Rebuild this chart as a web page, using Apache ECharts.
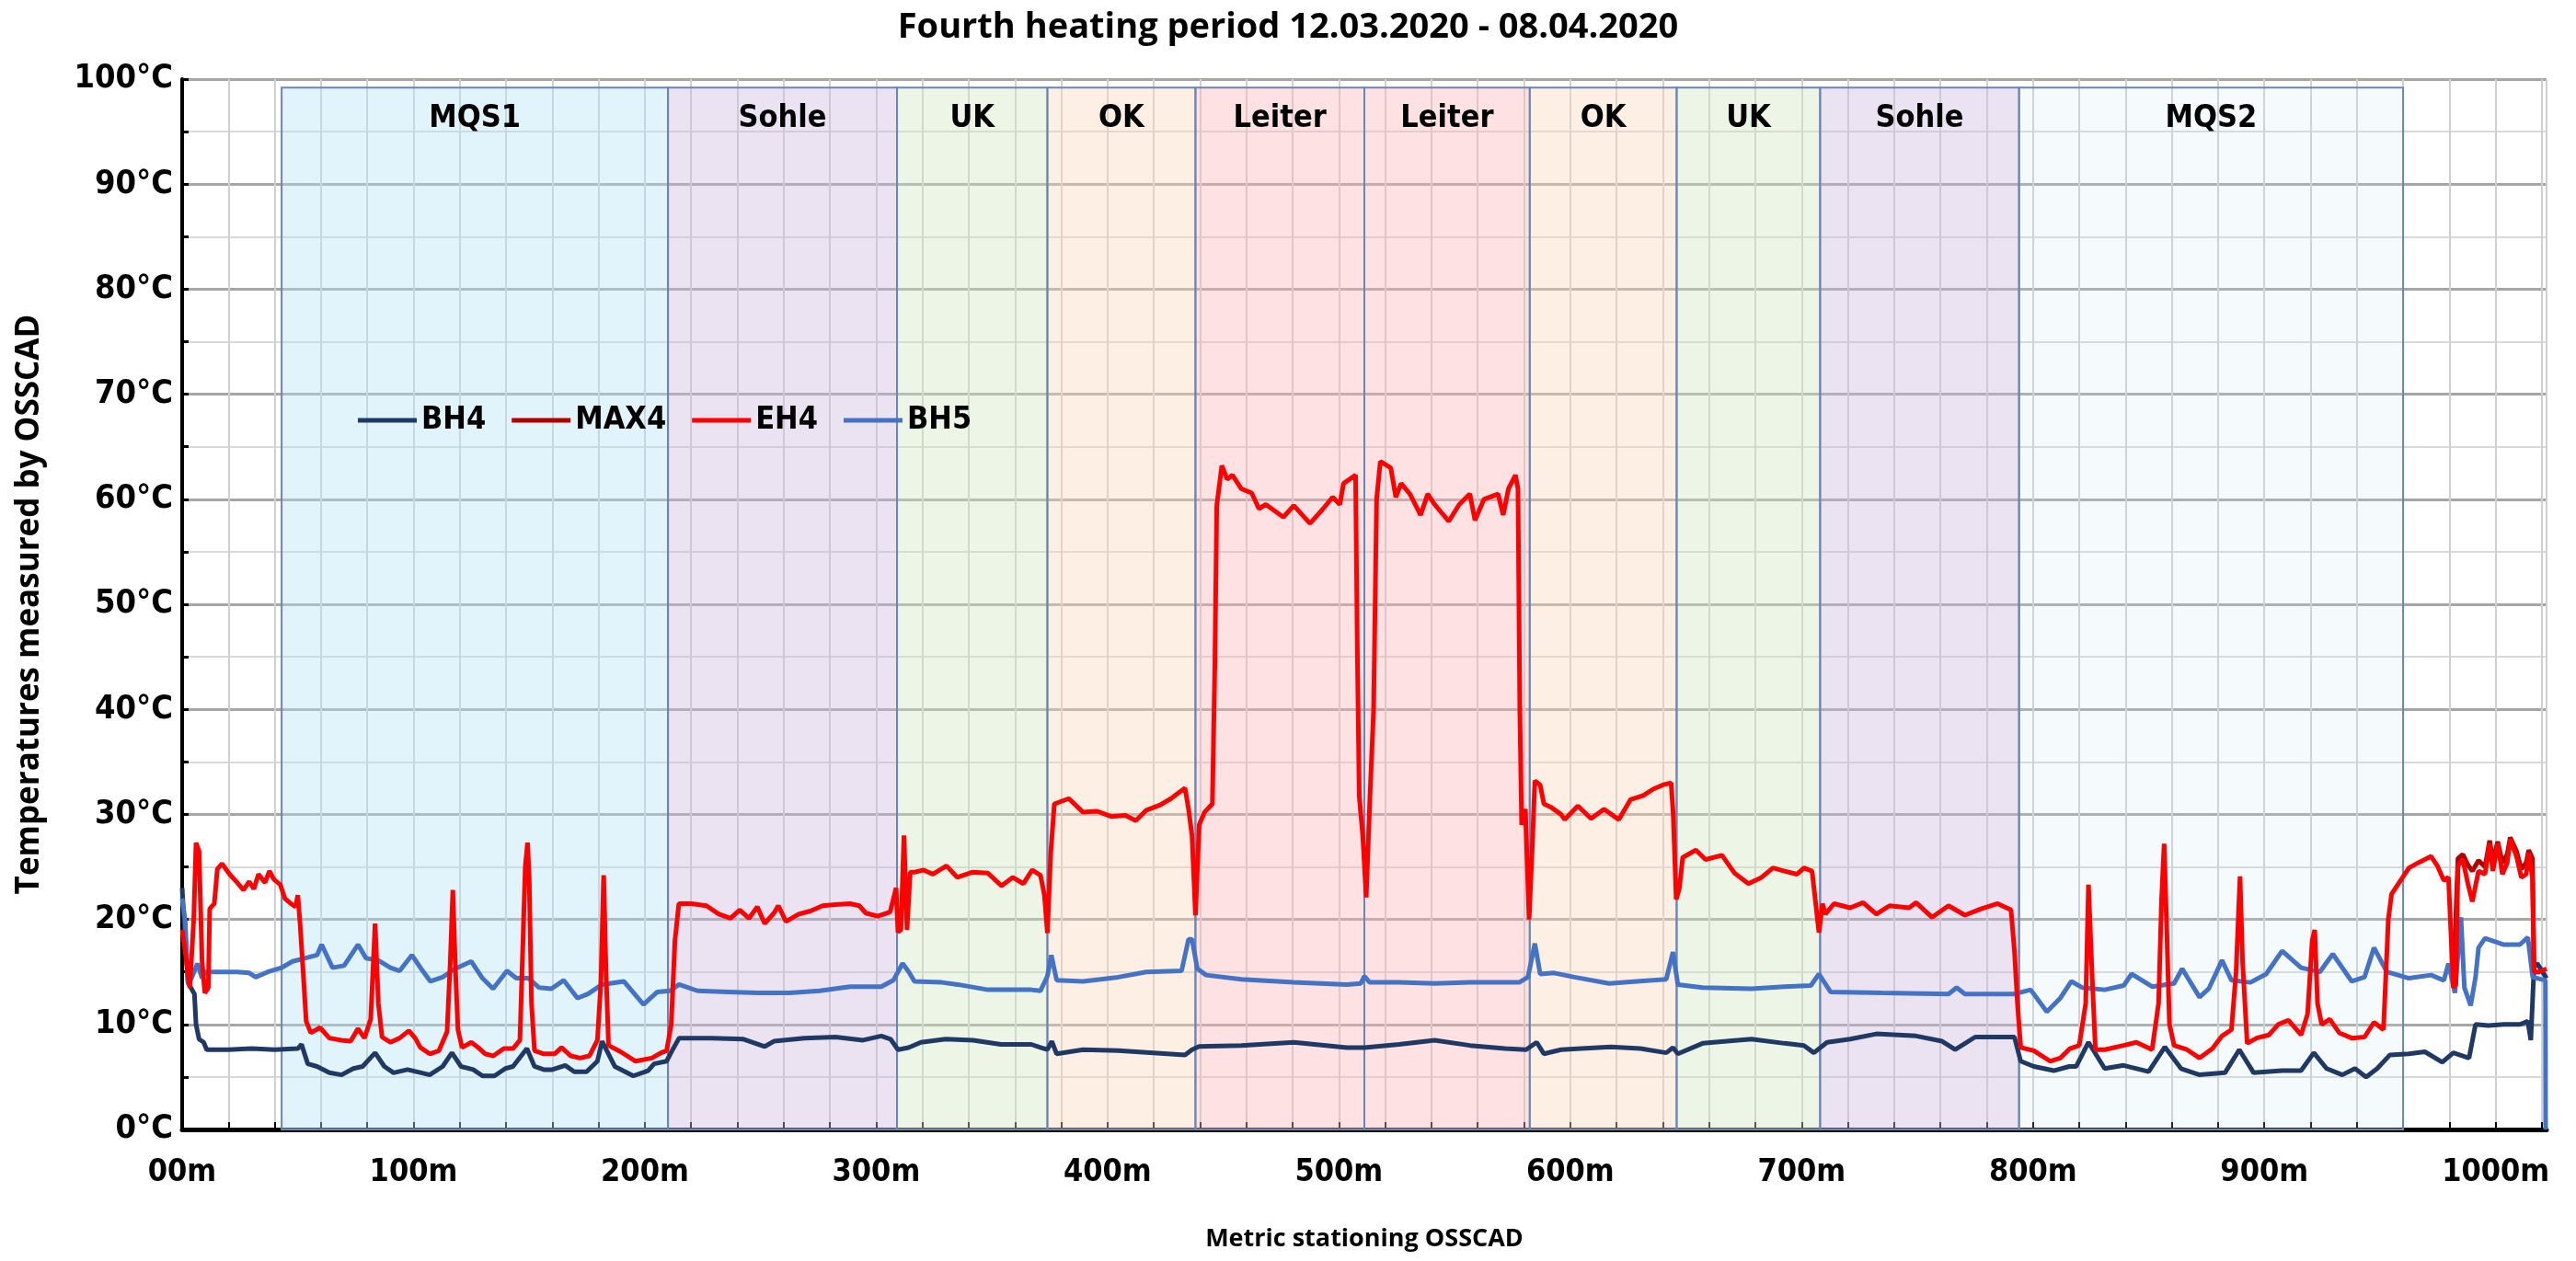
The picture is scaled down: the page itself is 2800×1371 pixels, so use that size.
<!DOCTYPE html>
<html>
<head>
<meta charset="utf-8">
<title>Fourth heating period</title>
<script src="https://cdn.jsdelivr.net/npm/echarts@6/dist/echarts.min.js"></script>
<style>
html, body { margin: 0; padding: 0; background: #fff; }
#main { width: 2800px; height: 1371px; }
</style>
</head>
<body>
<div id="main"></div>
<script>
// values: [station m, temperature °C]
var bh4 = [[0,23],[1,19],[2.5,14],[5.3,12.9],[6,10],[7.3,8.6],[9.3,8.3],[10.6,7.6],[20,7.6],[30,7.7],[40,7.6],[50,7.7],[51.6,8.1],[54.3,6.25],[58.3,6],[63.6,5.4],[68.9,5.2],[74,5.8],[78,6],[83.4,7.3],[87.4,6],[91.4,5.4],[97.4,5.7],[103.3,5.4],[107,5.2],[112.6,6],[116.6,7.3],[120.5,6],[125.8,5.7],[129.8,5.1],[135,5.1],[139.7,5.8],[143,6],[149,7.7],[152.3,6],[156.3,5.7],[160,5.7],[165.6,6.1],[169.5,5.5],[174.8,5.5],[179.5,6.5],[181.5,8.4],[187,6],[195,5.1],[201.4,5.6],[204,6.25],[209.4,6.5],[212,7.6],[214.8,8.7],[229,8.7],[242.6,8.6],[251.8,7.9],[255.8,8.4],[268.9,8.7],[282.4,8.8],[294.3,8.5],[302.2,8.9],[306.2,8.6],[309.4,7.6],[314,7.8],[319.3,8.3],[330,8.6],[341.9,8.5],[353.9,8.1],[367,8.1],[371,7.8],[374,7.6],[375.9,8.4],[378,7.2],[389.4,7.6],[404.6,7.5],[419.8,7.3],[433.5,7.1],[436.5,7.6],[439.6,7.9],[457.8,8],[480.5,8.3],[503.4,7.8],[511,7.8],[526,8.1],[541.4,8.5],[556.6,8],[571.8,7.7],[580.9,7.6],[585.5,8.3],[588.6,7.2],[596,7.6],[604.7,7.7],[617.5,7.85],[630.3,7.7],[641.5,7.3],[644.4,7.8],[646.5,7.2],[657.2,8.2],[678.3,8.6],[692.6,8.2],[701,8],[705.3,7.3],[711,8.3],[721,8.6],[732.3,9.1],[749.5,8.9],[760.7,8.4],[766.4,7.6],[775,8.8],[792,8.8],[794.7,6.5],[800.4,6],[809,5.6],[815.7,6],[818.7,6],[824,8.3],[831,5.8],[839.2,6.1],[850,5.5],[857,7.85],[864,5.8],[872,5.2],[883,5.4],[889.2,7.6],[895.4,5.4],[907.7,5.6],[915.9,5.6],[921.4,7.3],[926.9,5.8],[933.7,5.2],[939.2,5.8],[944,5],[948.8,5.8],[954.3,7.1],[962.5,7.2],[969.4,7.4],[976.9,6.4],[981.7,7.3],[988.5,6.8],[991.3,10],[996.8,9.9],[1003.6,10],[1010.5,10],[1013.9,10.3],[1015.2,8.5],[1016.6,15.5],[1018,15.8],[1022,14.4]];

// MAX4 only shows where it rises above EH4 near the end
var max4 = [[981.7,13.8],[983.7,25.8],[985.8,26.2],[988,25.2],[989.9,24.6],[992.6,25.6],[995.4,25],[997.4,27.5],[998.8,25.6],[1000.9,27.4],[1002.9,25.4],[1005,26.2],[1006.3,27.8],[1009,26.5],[1011.1,24.8],[1013.2,25.4],[1014.3,26.6],[1015.9,25.8],[1016.6,15.2]];

var eh4 = [[0,19],[1.3,17],[3.3,13.5],[5,20],[6,27.3],[7.3,26.5],[8.6,16],[9.8,13],[11.3,13.5],[11.9,21],[13.9,21.5],[15.2,24.8],[17.2,25.3],[20.5,24.3],[23.8,23.5],[26.5,22.8],[29,23.6],[31,22.9],[33,24.3],[35.8,23.5],[37.7,24.6],[39.7,23.8],[42.4,23.3],[44.4,22],[47,21.5],[49,21.2],[50,22.3],[51,19.5],[52.3,15],[53.6,10.3],[55.6,9.2],[59.6,9.7],[63.6,8.7],[68.9,8.5],[72.8,8.4],[76,9.6],[78.8,8.7],[81.5,10.5],[83.4,19.6],[84.8,12],[86.4,8.8],[90,8.3],[94,8.7],[98,9.4],[100.7,8.7],[103,7.8],[107,7.2],[111,7.5],[114.5,9.3],[115.9,16],[117,22.8],[118,16],[119.2,9.5],[121,7.8],[125,8.3],[128.5,7.7],[131,7.2],[134.5,7],[139,7.7],[143,7.7],[146,8.5],[148.3,25],[149.3,27.3],[150,24],[151,12],[152.3,7.5],[156.3,7.2],[161,7.2],[164,7.8],[168,7],[172,6.8],[176,7],[179.5,8.5],[181,14],[182.2,24.2],[183.2,15],[184.3,8],[189.5,7.4],[196,6.5],[203,6.8],[207,7.3],[209.4,7.5],[211.4,10],[213,18],[214.7,21.5],[220,21.5],[226.6,21.3],[232,20.5],[237,20.1],[241,20.9],[245,20.1],[248.6,21.2],[251.8,19.6],[255.8,20.6],[257.7,21.3],[261,19.8],[266.5,20.5],[271.6,20.8],[276.8,21.3],[282.4,21.4],[288.7,21.5],[292.7,21.3],[295.5,20.6],[300.6,20.3],[306,20.7],[308.6,23],[309.4,18.8],[310.7,19],[312,28],[313.3,19],[314.7,24.5],[316.6,24.5],[320.5,24.7],[324.5,24.3],[330.4,25.1],[335,24],[341.8,24.5],[348.3,24.4],[354.2,23.2],[359,24],[363.6,23.4],[367.4,24.7],[371,24.2],[372.7,22.3],[374,18.7],[375.4,26.2],[377,31],[383.3,31.5],[389.4,30.2],[395.5,30.3],[401.5,29.8],[407.7,29.9],[412.2,29.4],[416.8,30.4],[422.8,30.9],[427.4,31.5],[433.5,32.5],[435,30.5],[436.5,28],[438,20.4],[439.6,29],[441.9,30.2],[445.3,31],[446.4,44.5],[447.2,59.4],[449.4,63.2],[451.7,61.9],[454,62.3],[457.8,61],[462.3,60.6],[465.4,59.1],[468.4,59.5],[476,58.3],[480.5,59.4],[487.5,57.7],[492.8,59],[497.3,60.2],[500.4,59.5],[502,61.5],[507.2,62.3],[508,45],[508.8,31.7],[510.3,28],[511.8,22.1],[513.3,31],[515,40],[516.3,60],[517.9,63.6],[522.4,63],[524.6,60.2],[526.9,61.5],[530.7,60.5],[535.3,58.5],[538.4,60.5],[541.4,59.5],[547.5,57.9],[552,59.5],[556.6,60.5],[558.8,58],[562.7,60],[568.8,60.5],[571,58.5],[573.3,61],[576.3,62.3],[577.4,61],[578.2,40],[579,29],[580.6,30.5],[582.2,20],[583.6,27],[584.7,33.2],[587,32.8],[588.6,31],[591.5,30.7],[596,30],[597.6,29.5],[603.3,30.8],[609,29.6],[614.6,30.5],[621,29.5],[626,31.4],[631.6,31.8],[635.8,32.4],[640,32.8],[643.6,33],[644.5,30],[645.8,21.9],[647.2,23],[648.6,25.9],[654.3,26.6],[658.5,25.7],[665.6,26.1],[671,24.4],[677,23.4],[682.7,24],[687.6,24.9],[692.6,24.6],[698,24.3],[701,24.9],[704.5,24.6],[706,21.7],[707.5,18.75],[709,21.5],[710.3,20.5],[714,21.5],[721,21.1],[726.6,21.6],[732.3,20.5],[738,21.3],[746.5,21.1],[749.5,21.6],[756.4,20.2],[763.5,21.3],[770.6,20.4],[777.6,21],[784.7,21.5],[790.5,20.9],[792,17],[793.3,12],[794.7,7.8],[800.4,7.5],[807.4,6.5],[811.8,6.8],[816,7.7],[820,8],[822.8,12],[824,23.3],[825.5,15],[827,7.6],[831,7.6],[839.2,8],[844.7,8.3],[851.5,7.6],[854.3,12],[855.6,22],[856.7,27.2],[857.7,20],[859,10],[861,8],[866.6,7.6],[872,6.8],[877.6,7.7],[881.7,8.9],[885.8,9.5],[887.8,15],[889.5,24.1],[890.6,16],[892.6,8.2],[896.7,8.7],[902,9],[906,10],[910.4,10.4],[915.9,9],[918.7,11],[920.7,18],[921.8,19],[923,12],[924.8,10],[928.3,10.5],[932.4,9.2],[937.8,8.7],[943.3,8.8],[947.4,10.2],[951.5,9.5],[953.6,20],[955,22.4],[959.8,24],[962.5,24.9],[966.6,25.4],[972.1,26],[974.8,25.1],[977.6,23.7],[979.6,24],[981.7,13.5],[982.8,13.8],[983.7,25.1],[985.8,25.7],[988,23.4],[989.9,21.7],[992.6,24.6],[995.4,24.3],[997.4,27.2],[998.8,24.6],[1000.9,27.2],[1002.9,24.3],[1005,25.4],[1006.3,27.6],[1009,26],[1011.1,24],[1013.2,24.3],[1014.3,26.3],[1015.9,24],[1016.6,15],[1018.7,15],[1022,15.3]];

var bh5 = [[0,22],[1.3,19.9],[2.6,13.8],[4.6,14.7],[6.6,15.8],[8.6,14.4],[9.9,15],[14.6,15],[23.8,15],[29,14.9],[31.8,14.5],[37,15],[43,15.4],[47.7,16],[53,16.3],[58.3,16.6],[60.3,17.6],[65,15.4],[70,15.6],[76,17.6],[79.5,16.3],[84.8,16.1],[90,15.4],[94,15.1],[99.3,16.6],[103.3,15.3],[107.3,14.1],[112.6,14.5],[118,15.3],[125,16],[129.8,14.4],[134.4,13.4],[140.4,15.1],[144.4,14.4],[149.7,14.4],[154.3,13.5],[159.6,13.4],[164.9,14.2],[170.9,12.5],[175.4,12.9],[181.5,13.8],[190.9,14.1],[199.4,11.9],[205.4,13.1],[210.9,13.2],[214.8,13.8],[222.8,13.2],[235.9,13.1],[249,13],[262.5,13],[275.6,13.2],[288.7,13.6],[302.2,13.6],[307.4,14.2],[311.4,15.8],[314.1,15],[316.5,14.1],[328.4,14],[335.2,13.8],[348.3,13.3],[367,13.3],[371,13.2],[374,14.6],[375.7,16.6],[378,14.2],[389.4,14.1],[404.6,14.5],[416.8,15],[432,15.1],[435,18.1],[436.5,18.1],[438.8,15.3],[442.6,14.7],[457.8,14.3],[480.5,14],[503.4,13.8],[509.4,13.9],[511,14.6],[513.3,14],[526,14],[541.4,13.9],[556.6,14],[577.9,14],[581.7,14.5],[584.7,17.7],[587,14.8],[593,14.9],[601.8,14.5],[616.8,13.9],[628.7,14.1],[641.5,14.3],[644.4,16.9],[646.5,13.8],[657.2,13.5],[678.3,13.4],[692.6,13.6],[704,13.7],[707.5,14.8],[712.5,13.1],[735,13],[763.5,12.9],[767,13.5],[770.6,12.9],[792,12.9],[799,13.3],[806,11.2],[811.8,12.5],[816.6,14.1],[821.4,13.5],[831,13.3],[839.2,13.7],[842.6,14.8],[851.5,13.6],[861,13.9],[864.5,15.3],[872,12.6],[876,13.4],[881.7,16.1],[885.8,14.2],[894,14],[900.8,14.8],[907.7,17],[915.9,15.4],[924,15],[929.6,16.7],[937.8,14.1],[943.3,14.5],[947.4,17.3],[953,15],[962.5,14.4],[972.1,14.7],[977.6,14.2],[979.6,15.8],[982.4,13],[985,20.2],[986.5,13.5],[989.2,11.8],[991.3,14.5],[992.6,17.3],[995.4,18.2],[1003.6,17.6],[1010.5,17.6],[1013.9,18.3],[1016,14.5],[1021.5,14.2],[1021.6,0]];

// section boundaries (m)
var regionNames = ['MQS1', 'Sohle', 'UK', 'OK', 'Leiter', 'Leiter', 'OK', 'UK', 'Sohle', 'MQS2'];
var regionStart = [43, 210, 309, 374, 438, 511, 582.5, 646, 708, 794];
var regionEnd = [210, 309, 374, 438, 511, 582.5, 646, 708, 794, 960];
var regionTop = 99.2;

var fills = {
    MQS1: 'rgba(180,225,245,0.4)',
    Sohle: 'rgba(205,185,222,0.4)',
    UK: 'rgba(210,230,195,0.4)',
    OK: 'rgba(250,215,185,0.4)',
    Leiter: 'rgba(250,180,185,0.4)',
    MQS2: 'rgba(200,228,245,0.18)'
};

var labelFont = "'DejaVu Sans Condensed', 'Noto Sans', sans-serif";
var boldFont = "'Open Sans', 'Noto Sans', sans-serif";

var areas = regionNames.map(function (name, i) {
    return [
        {name: name, xAxis: regionStart[i], yAxis: 0,
         itemStyle: {color: fills[name]}},
        {xAxis: regionEnd[i], yAxis: regionTop}
    ];
});

var myChart = echarts.init(document.getElementById('main'));

function line(name, data, color) {
    return {
        name: name,
        type: 'line',
        data: data,
        showSymbol: false,
        symbol: 'none',
        color: color,
        lineStyle: {width: 5, color: color},
        animation: false
    };
}

var sBH4 = line('BH4', bh4, '#203864');
sBH4.markArea = {
    silent: true,
    itemStyle: {borderColor: '#6c86b4', borderWidth: 2},
    label: {
        show: true,
        position: 'insideTop',
        distance: 18,
        color: '#000',
        fontSize: 34,
        fontWeight: 'bold',
        fontFamily: labelFont
    },
    data: areas
};

var option = {
    animation: false,
    backgroundColor: '#fff',
    title: {
        text: 'Fourth heating period 12.03.2020 - 08.04.2020',
        left: 'center',
        top: 6,
        textStyle: {fontSize: 38, fontWeight: 'bold', fontFamily: boldFont, color: '#000'}
    },
    legend: {
        data: ['BH4', 'MAX4', 'EH4', 'BH5'],
        left: 389,
        top: 440,
        icon: 'rect',
        itemWidth: 64,
        itemHeight: 5,
        itemGap: 28,
        padding: 0,
        textStyle: {fontSize: 34, fontWeight: 'bold', fontFamily: labelFont, color: '#000'}
    },
    grid: {left: 198, right: 32, top: 86, bottom: 143, containLabel: false},
    xAxis: {
        type: 'value',
        min: 0,
        max: 1022,
        interval: 20,
        name: 'Metric stationing OSSCAD',
        nameLocation: 'middle',
        nameGap: 106,
        nameTextStyle: {fontSize: 27, fontWeight: 'bold', fontFamily: boldFont, color: '#000'},
        axisLine: {lineStyle: {color: '#000', width: 5}},
        axisTick: {inside: true, length: 8, lineStyle: {color: '#000', width: 2}},
        axisLabel: {
            margin: 30,
            fontSize: 34,
            fontWeight: 'bold',
            fontFamily: labelFont,
            color: '#000',
            formatter: function (v) {
                if (v % 100 !== 0) return '';
                return v === 0 ? '00m' : v + 'm';
            }
        },
        splitLine: {show: true, lineStyle: {color: '#d0d0d0', width: 2}}
    },
    yAxis: {
        type: 'value',
        min: 0,
        max: 100,
        interval: 10,
        name: 'Temperatures measured by OSSCAD',
        nameLocation: 'middle',
        nameGap: 148,
        nameTextStyle: {fontSize: 35, fontWeight: 'bold', fontFamily: boldFont, color: '#000'},
        axisLine: {show: true, lineStyle: {color: '#000', width: 4}},
        axisTick: {show: true, inside: true, length: 7, lineStyle: {color: '#000', width: 3}},
        minorTick: {show: true, splitNumber: 2, length: 7, lineStyle: {color: '#000', width: 3}},
        axisLabel: {
            margin: 10,
            fontSize: 36,
            fontWeight: 'bold',
            fontFamily: labelFont,
            color: '#000',
            formatter: '{value}°C'
        },
        splitLine: {show: true, lineStyle: {color: '#a6a6a6', width: 3}},
        minorSplitLine: {show: true, lineStyle: {color: '#d9d9d9', width: 2}}
    },
    series: [
        sBH4,
        line('BH5', bh5, '#4472c4'),
        line('MAX4', max4, '#b00000'),
        line('EH4', eh4, '#ff0000')
    ]
};

myChart.setOption(option);
</script>
</body>
</html>
